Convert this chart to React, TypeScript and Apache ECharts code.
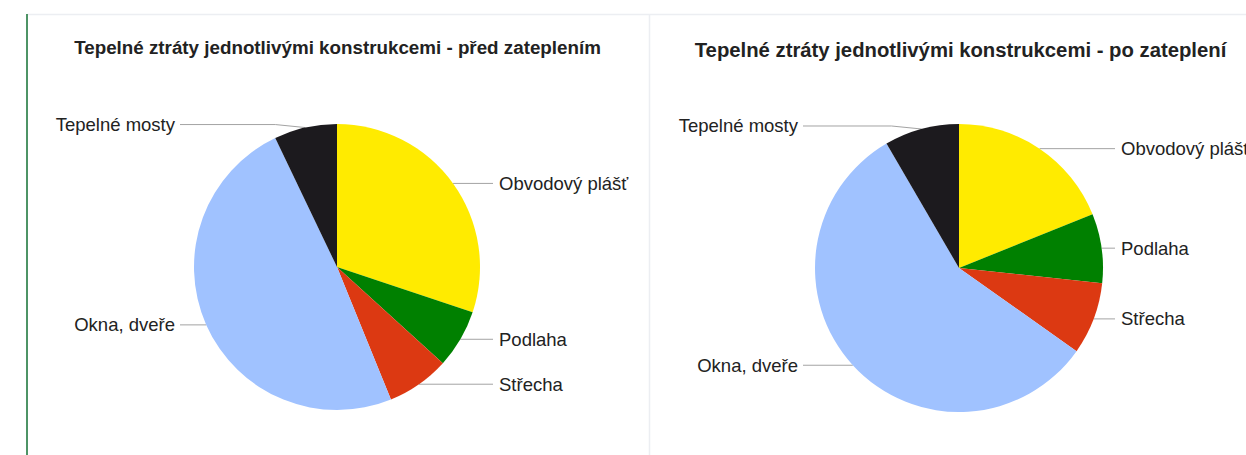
import React, { useEffect, useRef } from "react";
import * as echarts from "echarts";

// Heat-loss shares per building element (%), before and after insulation
const categories = ["Obvodový plášť", "Podlaha", "Střecha", "Okna, dveře", "Tepelné mosty"];
const beforeValues = [30.1, 6.6, 7.1, 49.0, 7.1];
const afterValues = [18.9, 7.8, 8.1, 56.8, 8.4];
const sliceColors = ["#FFEB00", "#008000", "#DC3912", "#A0C2FF", "#1C1A1E"];
const titles = [
  "Tepelné ztráty jednotlivými konstrukcemi - před zateplením",
  "Tepelné ztráty jednotlivými konstrukcemi - po zateplení",
];

const FONT = "Arial, 'Liberation Sans', sans-serif";

// Horizontal label-line end columns for each pie
const labelColumns = [
  { cx: 337, cy: 267, r: 143, leftEnd: 180, rightEnd: 493 },
  { cx: 959, cy: 268, r: 144, leftEnd: 803, rightEnd: 1115 },
];

function pieSeries(values: number[], index: number) {
  const col = labelColumns[index];
  return {
    type: "pie",
    center: [col.cx, col.cy],
    radius: col.r,
    startAngle: 90,
    clockwise: true,
    avoidLabelOverlap: false,
    silent: true,
    data: categories.map((name, i) => ({
      name,
      value: values[i],
      itemStyle: { color: sliceColors[i] },
    })),
    label: {
      show: true,
      position: "outer",
      formatter: "{b}",
      color: "#222222",
      fontFamily: FONT,
      fontSize: 18.5,
    },
    labelLine: {
      show: true,
      length: 0,
      length2: 10,
      lineStyle: { color: "#a3a3a3", width: 1 },
    },
    labelLayout: (p: any) => {
      const c = labelColumns[p.seriesIndex];
      const pts = p.labelLinePoints;
      if (!pts || !pts[0]) return {};
      const sx = pts[0][0];
      const sy = pts[0][1];
      const isLeft = sx < c.cx;
      const endX = isLeft ? c.leftEnd : c.rightEnd;
      // labels near the top of the pie sit a little higher, with a short kink
      const nearTop = sy < c.cy - 0.9 * c.r;
      const ly = nearTop ? sy - 3 : sy;
      const kinkX = nearTop ? sx + (isLeft ? -30 : 30) : sx;
      return {
        x: isLeft ? endX - 5 : endX + 6,
        y: ly,
        align: isLeft ? "right" : "left",
        verticalAlign: "middle",
        labelLinePoints: [
          [sx, sy],
          [kinkX, ly],
          [endX, ly],
        ],
      };
    },
    emphasis: { disabled: true },
  };
}

export default function App() {
  const ref = useRef<HTMLDivElement>(null);

  useEffect(() => {
    if (!ref.current) return;
    const chart = echarts.init(ref.current, undefined, { renderer: "svg" });
    chart.setOption({
      animation: false,
      backgroundColor: "#ffffff",
      graphic: [
        {
          type: "line",
          shape: { x1: 27, y1: 14.5, x2: 1246, y2: 14.5 },
          style: { stroke: "#eceef2", lineWidth: 1.5 },
        },
        {
          type: "line",
          shape: { x1: 649.5, y1: 14, x2: 649.5, y2: 455 },
          style: { stroke: "#eceef2", lineWidth: 1.5 },
        },
        {
          type: "line",
          shape: { x1: 27, y1: 14, x2: 27, y2: 455 },
          style: { stroke: "#4e9466", lineWidth: 2 },
        },
        {
          type: "text",
          x: 337.5,
          y: 47.5,
          style: {
            text: titles[0],
            align: "center",
            verticalAlign: "middle",
            fill: "#222222",
            fontFamily: FONT,
            fontWeight: "bold",
            fontSize: 18.8,
          },
        },
        {
          type: "text",
          x: 960.5,
          y: 50,
          style: {
            text: titles[1],
            align: "center",
            verticalAlign: "middle",
            fill: "#222222",
            fontFamily: FONT,
            fontWeight: "bold",
            fontSize: 20.3,
          },
        },
      ],
      series: [pieSeries(beforeValues, 0), pieSeries(afterValues, 1)],
    });
    return () => chart.dispose();
  }, []);

  return (
    <div
      ref={ref}
      style={{ position: "fixed", left: 0, top: 0, width: 1246, height: 455, background: "#fff" }}
    />
  );
}
